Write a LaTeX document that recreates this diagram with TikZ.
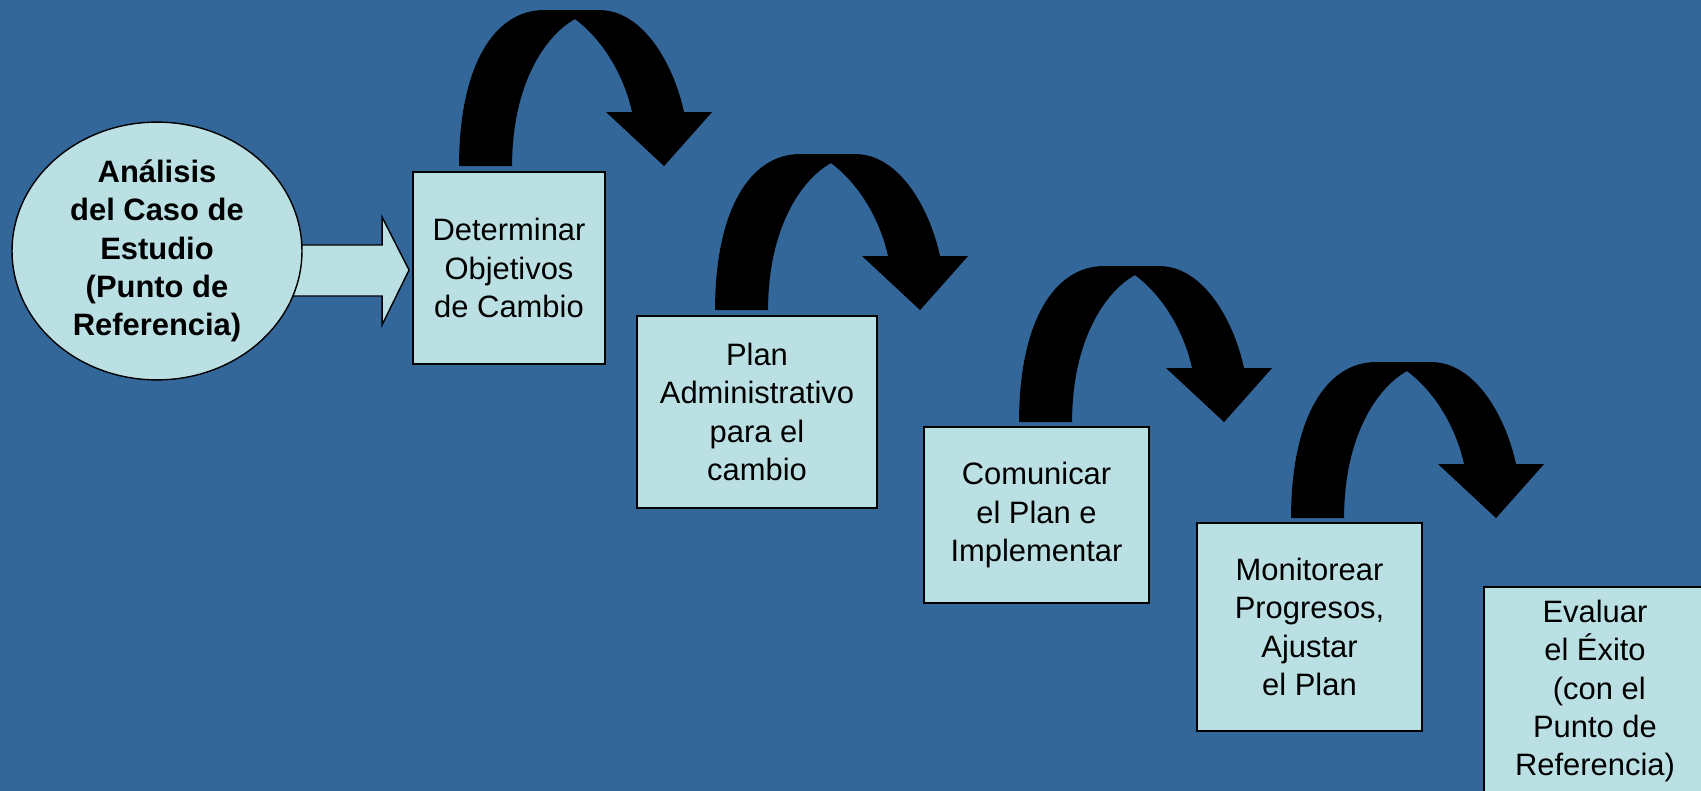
\documentclass[tikz,border=0pt]{standalone}
\usepackage{fontspec}
\setmainfont{Liberation Sans}
\usetikzlibrary{shapes.geometric,calc,backgrounds}
\definecolor{bgblue}{HTML}{336699}
\definecolor{paleblue}{HTML}{BBE0E3}

\tikzset{
  stage/.style={draw=black,line width=1.1pt,fill=paleblue,align=center,inner sep=0pt,
    font=\fontsize{17.6}{21.8}\selectfont},
  startnode/.style={ellipse,draw=black,line width=0.8pt,fill=paleblue,align=center,inner sep=0pt,
    minimum width=5.8cm,minimum height=5.14cm,font=\fontsize{17.6}{21.8}\selectfont\bfseries},
  blockarrow/.style={draw=black,line width=0.8pt,fill=paleblue,line join=miter},
  bendfill/.style={fill=black}
}
% curved black arrow, origin at the lower left corner of its shaft
\newcommand{\bendarrow}[1]{%
  \fill[bendfill,shift={#1}] (0,0) .. controls (0,-100) and (35,-156) .. (85,-156)
    -- (140,-156) .. controls (185,-156) and (215,-100) .. (225,-54)
    -- (253,-54) -- (205,0) -- (147,-54) -- (173,-54)
    .. controls (165,-90) and (145,-125) .. (116,-147)
    .. controls (85,-130) and (53,-80) .. (53,0) -- cycle;}

\begin{document}
\begin{tikzpicture}[x=0.02cm,y=-0.02cm]
  \useasboundingbox (0,0) rectangle (1701,791);

  \node[startnode] (ell) at (157,251) {Análisis\\del Caso de\\Estudio\\(Punto de\\Referencia)};
  \node[stage,minimum width=3.84cm,minimum height=3.84cm] (box1) at (509,268)
    {Determinar\\Objetivos\\de Cambio};
  \node[stage,minimum width=4.8cm,minimum height=3.84cm] (box2) at (757,412)
    {Plan\\Administrativo\\para el\\cambio};
  \node[stage,minimum width=4.5cm,minimum height=3.52cm] (box3) at (1036.5,515)
    {Comunicar\\el Plan e\\Implementar};
  \node[stage,minimum width=4.5cm,minimum height=4.16cm] (box4) at (1309.5,627)
    {Monitorear\\Progresos,\\Ajustar\\el Plan};
  \node[stage,minimum width=4.44cm,minimum height=4.16cm] (box5) at (1595,691)
    {Evaluar\\el Éxito\hspace*{0.28em}\\\hspace*{0.28em}(con el\\Punto de\\Referencia)};

  \begin{scope}[on background layer]
    \fill[bgblue] (0,0) rectangle (1701,791);
    % block arrow from the ellipse to the first step
    \draw[blockarrow] ($(ell.east|-box1.west)+(-14,-23)$) -- ($(box1.west)+(-30,-23)$)
      -- ($(box1.west)+(-30,-51)$) -- ($(box1.west)+(-3,2)$) -- ($(box1.west)+(-30,57)$)
      -- ($(box1.west)+(-30,28)$) -- ($(ell.east|-box1.west)+(-14,28)$) -- cycle;
  \end{scope}

  % curved arrows between the steps
  \bendarrow{($(box1.north west)+(47,-5)$)}
  \bendarrow{($(box2.north west)+(79,-5)$)}
  \bendarrow{($(box3.north west)+(96,-4)$)}
  \bendarrow{($(box4.north west)+(95,-4)$)}
\end{tikzpicture}
\end{document}
